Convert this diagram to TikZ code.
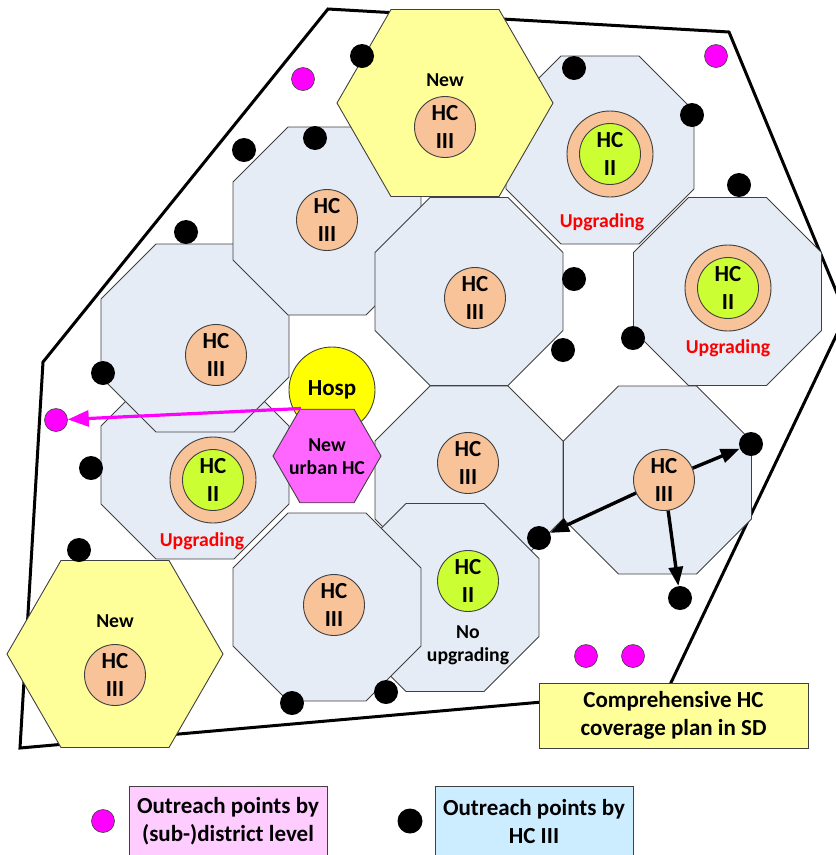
\documentclass[tikz,border=0pt]{standalone}
\usepackage{fontspec}
\setmainfont{Carlito}
\usetikzlibrary{shapes.geometric,arrows.meta}

\definecolor{octfill}{RGB}{230,236,246}
\definecolor{octline}{RGB}{64,64,64}
\definecolor{peach}{RGB}{248,195,152}
\definecolor{lime}{RGB}{204,255,51}
\definecolor{paleyellow}{RGB}{255,255,153}
\definecolor{hospyellow}{RGB}{255,255,0}
\definecolor{urbanpink}{RGB}{255,102,255}
\definecolor{outmagenta}{RGB}{255,0,255}
\definecolor{legpink}{RGB}{255,204,255}
\definecolor{legblue}{RGB}{204,236,255}
\definecolor{upred}{RGB}{255,0,0}

\tikzset{
  bigtxt/.style={font=\bfseries\fontsize{23}{28}\selectfont, align=center},
  smalltxt/.style={font=\bfseries\fontsize{19.7}{23}\selectfont, align=center},
  octo/.style={regular polygon, regular polygon sides=8, minimum size=203.5pt,
    inner sep=0pt, outer sep=0pt, fill=octfill, draw=octline, line width=0.9pt},
  hexnew/.style={regular polygon, regular polygon sides=6, minimum size=216pt,
    inner sep=0pt, outer sep=0pt, fill=paleyellow, draw=octline, line width=0.9pt},
  hcthree/.style={circle, minimum size=61pt, inner sep=0pt, fill=peach,
    draw=octline, line width=0.9pt, bigtxt},
  ring/.style={circle, minimum size=86pt, inner sep=0pt, fill=peach,
    draw=octline, line width=0.9pt},
  hctwo/.style={circle, minimum size=61pt, inner sep=0pt, fill=lime,
    draw=octline, line width=0.9pt, bigtxt},
  bdot/.style={circle, fill=black, minimum size=24pt, inner sep=0pt},
  mdot/.style={circle, fill=outmagenta, draw=octline, line width=0.6pt,
    minimum size=23pt, inner sep=0pt},
  uptxt/.style={smalltxt, text=upred},
  reach/.style={-{Triangle[length=19pt,width=14pt]}, line width=3.4pt},
  magarrow/.style={-{Triangle[length=21pt,width=16pt]}, line width=3.2pt, draw=outmagenta},
  boxnote/.style={rectangle, draw=octline, line width=0.9pt, inner sep=0pt},
}

\begin{document}
\begin{tikzpicture}[x=1pt,y=-1pt]
\useasboundingbox (0,0) rectangle (836,855);
\clip (0,0) rectangle (836,855);

% sub-district boundary
\draw[line width=3pt, line join=miter]
  (328,9) -- (729,32) -- (846,315) -- (667,691) -- (20,748) -- (43,362) -- cycle;

% catchment areas of the health centres
\node[octo] (o10) at (195,465) {};
\node[octo] (o2)  at (195,338) {};
\node[octo] (o1)  at (327,221) {};
\node[octo] (o5)  at (469,291.5) {};
\node[octo] (o3)  at (600,150) {};
\node[octo] (o4)  at (727.5,291.5) {};
\node[octo] (o6)  at (469,480) {};
\node[octo] (o7)  at (657.5,480) {};
\node[octo] (o8)  at (445,597.5) {};
\node[octo] (o9)  at (327,607) {};

% new catchment areas
\node[hexnew] (hxtop) at (445,103) {};
\node[hexnew] (hxlow) at (115,654) {};

% hospital and new urban centre
\node[circle, minimum size=86pt, inner sep=0pt, fill=hospyellow, draw=octline,
  line width=0.9pt, bigtxt] (hosp) at (332,390) {Hosp};
\node[regular polygon, regular polygon sides=6, minimum size=108pt, inner sep=0pt,
  outer sep=0pt, fill=urbanpink, draw=octline, line width=0.9pt] (uhc) at (327,456) {};
\node[smalltxt] (uhct) at (327,457) {New\\urban HC};

% health centres
\node[smalltxt] (newtop) at (445,80) {New};
\node[hcthree] (c1) at (445,127) {HC\\III};
\node[smalltxt] (newlow) at (115,621) {New};
\node[hcthree] (c2) at (115,675) {HC\\III};

\node[hcthree] (h1) at (327,220) {HC\\III};
\node[hcthree] (h2) at (216,355) {HC\\III};
\node[hcthree] (h5) at (475,298) {HC\\III};
\node[hcthree] (h6) at (468,463) {HC\\III};
\node[hcthree] (h7) at (664,480) {HC\\III};
\node[hcthree] (h9) at (334,605) {HC\\III};

\node[ring] (r3) at (610,154) {};
\node[hctwo] (k3) at (610,154) {HC\\II};
\node[uptxt] (u3) at (602,222) {Upgrading};

\node[ring] (r4) at (728,288) {};
\node[hctwo] (k4) at (728,288) {HC\\II};
\node[uptxt] (u4) at (728,348) {Upgrading};

\node[ring] (r10) at (213,480) {};
\node[hctwo] (k10) at (213,480) {HC\\II};
\node[uptxt] (u10) at (202,541) {Upgrading};

\node[hctwo] (k8) at (468,581) {HC\\II};
\node[smalltxt] (nu8) at (468,645) {No\\upgrading};

% outreach points by HC III
\node[bdot] (d1)  at (362,56) {};
\node[bdot] (d2)  at (315,138) {};
\node[bdot] (d3)  at (244,150) {};
\node[bdot] (d4)  at (186,232) {};
\node[bdot] (d5)  at (103,373) {};
\node[bdot] (d6)  at (574,68) {};
\node[bdot] (d7)  at (692,115) {};
\node[bdot] (d8)  at (739,185) {};
\node[bdot] (d9)  at (574,279) {};
\node[bdot] (d10) at (563,350) {};
\node[bdot] (d11) at (633,338) {};
\node[bdot] (d12) at (91,468) {};
\node[bdot] (d13) at (79,550) {};
\node[bdot] (d14) at (292,703) {};
\node[bdot] (d15) at (386,692) {};
\node[bdot] (d16) at (751,444) {};
\node[bdot] (d17) at (539,538) {};
\node[bdot] (d18) at (680,598) {};

% outreach points by (sub-)district level
\node[mdot] (m1) at (303,79) {};
\node[mdot] (m2) at (716,56) {};
\node[mdot] (m3) at (56,420) {};
\node[mdot] (m4) at (586,656) {};
\node[mdot] (m5) at (633,656) {};

% outreach links
\draw[reach] (h7) -- (d16);
\draw[reach] (h7) -- (d17);
\draw[reach] (h7) -- (d18);
\coordinate (uhcnw) at (301,408.5);
\draw[magarrow] (uhcnw) -- (m3);

% plan caption
\node[boxnote, fill=paleyellow, minimum width=269pt, minimum height=65pt, bigtxt]
  (plan) at (673.5,715.5) {Comprehensive HC\\coverage plan in SD};

% legend
\node[mdot] (lm) at (103,821) {};
\node[boxnote, fill=legpink, minimum width=198pt, minimum height=84pt] (lgA) at (228,828) {};
\node[bigtxt] (lgAt) at (228,821) {Outreach points by\\(sub-)district level};
\node[bdot, minimum size=25pt] (lb) at (410,821) {};
\node[boxnote, fill=legblue, minimum width=198pt, minimum height=84pt] (lgB) at (534,828) {};
\node[bigtxt] (lgBt) at (534,821) {Outreach points by\\HC III};
\end{tikzpicture}
\end{document}
